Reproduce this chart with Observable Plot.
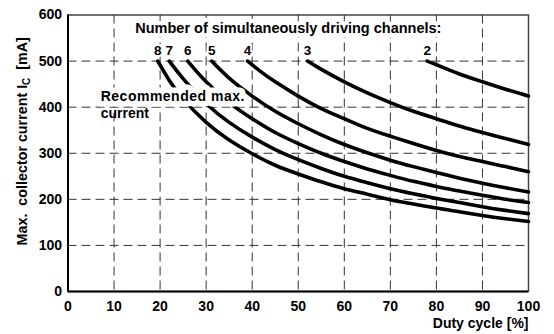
<!DOCTYPE html>
<html><head><meta charset="utf-8">
<script src="https://cdn.jsdelivr.net/npm/d3@7"></script>
<script src="https://cdn.jsdelivr.net/npm/@observablehq/plot@0.6"></script>
<style>body{margin:0;background:#fff}</style>
</head><body><div id="chart"></div>
<script>
// Tick values
const xTicks = [0,10,20,30,40,50,60,70,80,90,100];
const yTicks = [0,100,200,300,400,500,600];

// Number of simultaneously driving channels
const channels = [2,3,4,5,6,7,8];

// Duty cycle [%] and max. collector current [mA]
const ch2Duty    = [78,80,85,90,95,100];
const ch2Current = [500,492,472,455,439,424];
const ch3Duty    = [52,55,60,65,70,75,80,85,90,95,100];
const ch3Current = [500,482,455,431,410,391,375,359,345,332,319];
const ch4Duty    = [39,42,45,50,55,60,65,70,75,80,85,90,95,100];
const ch4Current = [500,476,455,424,397,375,354,337,321,306,293,282,271,260];
const ch5Duty    = [31.2,35,40,45,50,55,60,65,70,75,80,85,90,95,100];
const ch5Current = [500,463,424,391,364,340,319,301,285,271,258,246,235,225,216];
const ch6Duty    = [26,30,35,40,45,50,55,60,65,70,75,80,85,90,95,100];
const ch6Current = [500,455,410,375,345,321,300,282,266,252,239,228,218,209,200,193];
const ch7Duty    = [22,25,30,35,40,45,50,55,60,65,70,75,80,85,90,95,100];
const ch7Current = [500,462,408,367,335,308,286,267,250,236,223,212,202,193,184,176,169];
const ch8Duty    = [19.5,22,25,30,35,40,45,50,55,60,65,70,75,80,85,90,95,100];
const ch8Current = [500,458,418,367,329,299,274,255,238,223,211,199,190,181,173,165,158,152];

const dutyByChannel = [ch2Duty,ch3Duty,ch4Duty,ch5Duty,ch6Duty,ch7Duty,ch8Duty];
const currentByChannel = [ch2Current,ch3Current,ch4Current,ch5Current,ch6Current,ch7Current,ch8Current];

const rows = channels.flatMap((n, k) => dutyByChannel[k].map((d, i) => ({n, duty: d, current: currentByChannel[k][i]})));
const starts = channels.map((n, k) => ({n, duty: dutyByChannel[k][0], current: currentByChannel[k][0]}));

const titleText = "Number of simultaneously driving channels:";
const recText = "Recommended max.";
const yLabel = "Max. collector current IC [mA]";
const xLabel = "Duty cycle [%]";

const chart = Plot.plot({
  width: 554, height: 334,
  marginLeft: 67.5, marginRight: 26, marginTop: 14.5, marginBottom: 43,
  style: {fontFamily: "'Liberation Sans', Arial, sans-serif", fontSize: "14px", fontWeight: "bold", background: "white", color: "black"},
  x: {domain: [0, 100]},
  y: {domain: [0, 600]},
  marks: [
    Plot.gridX(xTicks.slice(1, -1), {stroke: "#333", strokeOpacity: 1, strokeWidth: 1, strokeDasharray: "9,5"}),
    Plot.gridY(yTicks.slice(1, -1), {stroke: "#333", strokeOpacity: 1, strokeWidth: 1, strokeDasharray: "9,5"}),
    Plot.axisX(xTicks, {tickSize: 0, tickPadding: 10, label: null, fontSize: 14, fontWeight: "bold"}),
    Plot.axisY(yTicks, {tickSize: 0, tickPadding: 6, label: null, fontSize: 14, fontWeight: "bold"}),
    Plot.frame({stroke: "#444", strokeWidth: 1.5}),
    Plot.ruleX([0], {stroke: "black", strokeWidth: 2}),
    Plot.ruleY([0], {stroke: "black", strokeWidth: 2}),
    Plot.line(rows, {x: "duty", y: "current", z: "n", stroke: "black", strokeWidth: 3.6, curve: "natural"}),
    Plot.text([recText], {x: 7.1, y: 414, text: d => d, textAnchor: "start", lineAnchor: "bottom", fontSize: 14, fontWeight: "bold", fill: "black", stroke: "white", strokeWidth: 11}),
    Plot.text(["current"], {x: 7.1, y: 377, text: d => d, textAnchor: "start", lineAnchor: "bottom", fontSize: 14, fontWeight: "bold", fill: "black"}),
    Plot.text([titleText], {x: 14.6, y: 560, text: d => d, textAnchor: "start", lineAnchor: "bottom", fontSize: 14.5, fontWeight: "bold", fill: "black", stroke: "white", strokeWidth: 8}),
    Plot.text(starts, {x: "duty", y: "current", text: d => String(d.n), dy: -6, lineAnchor: "bottom", fontSize: 13.5, fontWeight: "bold", fill: "black", stroke: "white", strokeWidth: 4}),
    Plot.text([xLabel], {frameAnchor: "bottom-right", dy: 36, text: d => d, textAnchor: "end", lineAnchor: "bottom", fontSize: 14, fontWeight: "bold", fill: "black"}),
    Plot.text([yLabel], {frameAnchor: "left", dx: -46, dy: -12, rotate: -90, text: d => d, textAnchor: "middle", lineAnchor: "middle", fontSize: 14.3, fontWeight: "bold", fill: "black"})
  ]
});

const ns = "http://www.w3.org/2000/svg";
chart.querySelectorAll("text").forEach(t => {
  // subscript "C" in the y-axis label
  if (t.textContent === yLabel) {
    t.textContent = "";
    const a = document.createElementNS(ns, "tspan"); a.textContent = "Max.  collector current I";
    const b = document.createElementNS(ns, "tspan"); b.textContent = "C"; b.setAttribute("dy", "3"); b.setAttribute("font-size", "10");
    const c = document.createElementNS(ns, "tspan"); c.textContent = "  [mA]"; c.setAttribute("dy", "-3");
    t.append(a, b, c);
    t.setAttribute("style", "white-space: pre");
  }
  if (t.textContent === recText) t.setAttribute("letter-spacing", "0.5");
});
document.getElementById("chart").append(chart);
</script>
</body></html>
